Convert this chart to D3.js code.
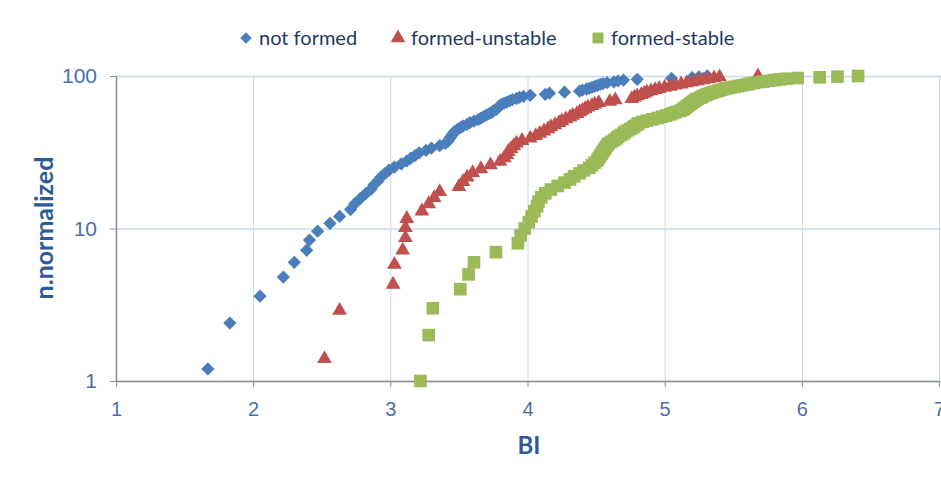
<!DOCTYPE html>
<html>
  <head>
    <meta charset="utf-8">
    <title>BI vs n.normalized</title>
    <script type="text/javascript" src="https://d3js.org/d3.v7.min.js"></script>
    <style>
      body { margin: 0; background: #fff; }
    </style>
  </head>
  <body>
    <div id="chart"></div>
    <script type="text/javascript">
      // series names
      var seriesNames = ["not formed", "formed-unstable", "formed-stable"];

      // not formed (diamonds)
      var notFormedX = [1.67, 1.83, 2.05, 2.22, 2.30, 2.39, 2.41, 2.47, 2.56, 2.63,
        2.71, 2.74, 2.78, 2.82, 2.86, 2.88, 2.91, 2.93, 2.96, 2.99,
        3.03, 3.08, 3.12, 3.15, 3.18, 3.21, 3.26, 3.30, 3.36, 3.40,
        3.42, 3.43, 3.44, 3.45, 3.46, 3.47, 3.49, 3.51, 3.53, 3.56,
        3.58, 3.61, 3.64, 3.66, 3.68, 3.70, 3.72, 3.74, 3.75, 3.77,
        3.78, 3.79, 3.80, 3.81, 3.83, 3.85, 3.87, 3.89, 3.92, 3.94,
        3.97, 4.02, 4.13, 4.16, 4.27, 4.38, 4.40, 4.43, 4.45, 4.47,
        4.49, 4.51, 4.53, 4.55, 4.58, 4.63, 4.66, 4.70, 4.80, 5.05,
        5.20, 5.25, 5.31];
      var notFormedY = [1.2, 2.4, 3.6, 4.8, 6.0, 7.2, 8.4, 9.6, 10.8, 12.0,
        13.3, 14.5, 15.7, 16.9, 18.1, 19.3, 20.5, 21.7, 22.9, 24.1,
        25.3, 26.5, 27.7, 28.9, 30.1, 31.3, 32.5, 33.7, 34.9, 36.1,
        37.3, 38.6, 39.8, 41.0, 42.2, 43.4, 44.6, 45.8, 47.0, 48.2,
        49.4, 50.6, 51.8, 53.0, 54.2, 55.4, 56.6, 57.8, 59.0, 60.2,
        61.4, 62.7, 63.9, 65.1, 66.3, 67.5, 68.7, 69.9, 71.1, 72.3,
        73.5, 74.7, 75.9, 77.1, 78.3, 79.5, 80.7, 81.9, 83.1, 84.3,
        85.5, 86.7, 88.0, 89.2, 90.4, 91.6, 92.8, 94.0, 95.2, 96.4,
        97.6, 98.8, 100];

      // formed-unstable (triangles)
      var unstableX = [2.52, 2.63, 3.02, 3.03, 3.09, 3.11, 3.11, 3.12, 3.23, 3.28,
        3.32, 3.36, 3.50, 3.53, 3.56, 3.60, 3.66, 3.73, 3.80, 3.83,
        3.85, 3.86, 3.88, 3.90, 3.92, 3.96, 4.02, 4.06, 4.09, 4.12,
        4.15, 4.17, 4.20, 4.23, 4.25, 4.28, 4.31, 4.33, 4.36, 4.38,
        4.40, 4.42, 4.44, 4.47, 4.49, 4.52, 4.60, 4.64, 4.76, 4.78,
        4.80, 4.83, 4.85, 4.87, 4.90, 4.93, 4.96, 5.00, 5.04, 5.08,
        5.12, 5.16, 5.20, 5.24, 5.28, 5.32, 5.36, 5.40, 5.68];
      var unstableY = [1.4, 2.9, 4.3, 5.8, 7.2, 8.7, 10.1, 11.6, 13.0, 14.5,
        15.9, 17.4, 18.8, 20.3, 21.7, 23.2, 24.6, 26.1, 27.5, 29.0,
        30.4, 31.9, 33.3, 34.8, 36.2, 37.7, 39.1, 40.6, 42.0, 43.5,
        44.9, 46.4, 47.8, 49.3, 50.7, 52.2, 53.6, 55.1, 56.5, 58.0,
        59.4, 60.9, 62.3, 63.8, 65.2, 66.7, 68.1, 69.6, 71.0, 72.5,
        73.9, 75.4, 76.8, 78.3, 79.7, 81.2, 82.6, 84.1, 85.5, 87.0,
        88.4, 89.9, 91.3, 92.8, 94.2, 95.7, 97.1, 98.6, 100];

      // formed-stable (squares)
      var stableX = [3.22, 3.28, 3.31, 3.51, 3.57, 3.61, 3.77, 3.93, 3.95, 3.98,
        4.01, 4.03, 4.05, 4.07, 4.08, 4.10, 4.13, 4.17, 4.22, 4.27,
        4.31, 4.34, 4.38, 4.41, 4.45, 4.47, 4.49, 4.51, 4.52, 4.53,
        4.54, 4.55, 4.56, 4.57, 4.58, 4.59, 4.61, 4.63, 4.65, 4.66,
        4.68, 4.70, 4.71, 4.73, 4.75, 4.77, 4.78, 4.80, 4.81, 4.84,
        4.87, 4.91, 4.95, 4.98, 5.01, 5.04, 5.06, 5.08, 5.11, 5.13,
        5.14, 5.15, 5.16, 5.17, 5.18, 5.19, 5.20, 5.21, 5.22, 5.23,
        5.24, 5.26, 5.27, 5.28, 5.30, 5.31, 5.33, 5.35, 5.37, 5.39,
        5.41, 5.43, 5.45, 5.48, 5.51, 5.54, 5.57, 5.60, 5.62, 5.65,
        5.68, 5.72, 5.76, 5.80, 5.84, 5.89, 5.97, 6.13, 6.26, 6.41];
      var stableY = [1, 2, 3, 4, 5, 6, 7, 8, 9, 10,
        11, 12, 13, 14, 15, 16, 17, 18, 19, 20,
        21, 22, 23, 24, 25, 26, 27, 28, 29, 30,
        31, 32, 33, 34, 35, 36, 37, 38, 39, 40,
        41, 42, 43, 44, 45, 46, 47, 48, 49, 50,
        51, 52, 53, 54, 55, 56, 57, 58, 59, 60,
        61, 62, 63, 64, 65, 66, 67, 68, 69, 70,
        71, 72, 73, 74, 75, 76, 77, 78, 79, 80,
        81, 82, 83, 84, 85, 86, 87, 88, 89, 90,
        91, 92, 93, 94, 95, 96, 97, 98, 99, 100];

      var xTicks = [1, 2, 3, 4, 5, 6, 7];
      var yTicks = [1, 10, 100];

      var width = 941, height = 477;
      var margin = {top: 76, right: 2, bottom: 96, left: 116};

      var svg = d3.select("#chart").append("svg")
        .attr("width", width)
        .attr("height", height)
        .style("font-family", "Lato, 'Open Sans', sans-serif");

      var x = d3.scaleLinear().domain([1, 7]).range([margin.left, width - margin.right]);
      var y = d3.scaleLog().domain([1, 100]).range([height - margin.bottom, margin.top]);

      var gridColor = "#c6d9f0";
      var axisColor = "#8c8c8c";
      var labelColor = "#4a6fa5";
      var titleColor = "#2e5b98";

      // vertical gridlines
      svg.append("g")
        .attr("transform", "translate(0," + (height - margin.bottom) + ")")
        .call(d3.axisBottom(x).tickValues(xTicks).tickSize(-(height - margin.bottom - margin.top)).tickFormat(""))
        .call(function(g) {
          g.select(".domain").remove();
          g.selectAll("line").attr("stroke", gridColor).attr("stroke-width", 1);
        });

      // horizontal gridlines
      svg.append("g")
        .attr("transform", "translate(" + margin.left + ",0)")
        .call(d3.axisLeft(y).tickValues(yTicks).tickSize(-(width - margin.left)).tickFormat(""))
        .call(function(g) {
          g.select(".domain").remove();
          g.selectAll("line").attr("stroke", gridColor).attr("stroke-width", 1.5);
        });

      // x axis
      svg.append("g")
        .attr("transform", "translate(0," + (height - margin.bottom) + ")")
        .call(d3.axisBottom(x).tickValues(xTicks).tickSize(6).tickPadding(15).tickSizeOuter(0).tickFormat(d3.format("d")))
        .call(function(g) {
          g.select(".domain").attr("stroke", axisColor).attr("stroke-width", 1.5);
          g.selectAll("line").attr("stroke", axisColor);
          g.selectAll("text").attr("fill", labelColor).style("font-size", "20px");
        });

      // y axis
      svg.append("g")
        .attr("transform", "translate(" + margin.left + ",0)")
        .call(d3.axisLeft(y).tickValues(yTicks).tickSize(6).tickPadding(13).tickSizeOuter(0).tickFormat(d3.format("d")))
        .call(function(g) {
          g.select(".domain").attr("stroke", axisColor).attr("stroke-width", 1.5);
          g.selectAll("line").attr("stroke", axisColor);
          g.selectAll("text").attr("fill", labelColor).style("font-size", "21px");
        });

      // axis titles
      svg.append("text")
        .attr("x", 529)
        .attr("y", 454)
        .attr("text-anchor", "middle")
        .attr("fill", titleColor)
        .style("font-size", "24px")
        .style("font-weight", "bold")
        .text("BI");

      svg.append("text")
        .attr("transform", "translate(53,228) rotate(-90)")
        .attr("text-anchor", "middle")
        .attr("fill", titleColor)
        .style("font-size", "25px")
        .style("font-weight", "bold")
        .text("n.normalized");

      // markers
      var diamond = d3.symbol().type(d3.symbolSquare).size(88);
      var triangle = d3.symbol().type(d3.symbolTriangle).size(95);
      var square = d3.symbol().type(d3.symbolSquare).size(160);

      var series = [
        {xs: notFormedX, ys: notFormedY, color: "#4a7ebb", path: diamond(), rot: 45},
        {xs: unstableX, ys: unstableY, color: "#c0504d", path: triangle(), rot: 0},
        {xs: stableX, ys: stableY, color: "#9bbb59", path: square(), rot: 0}
      ];

      series.forEach(function(s) {
        svg.append("g").selectAll("path")
          .data(d3.range(s.xs.length))
          .enter()
          .append("path")
            .attr("d", s.path)
            .attr("fill", s.color)
            .attr("transform", function(i) {
              return "translate(" + x(s.xs[i]) + "," + y(s.ys[i]) + ") rotate(" + s.rot + ")";
            });
      });

      // legend
      var legendX = [246, 398, 598];
      var legendSize = [66, 95, 120];
      var legendType = [d3.symbolSquare, d3.symbolTriangle, d3.symbolSquare];
      var legend = svg.append("g");
      series.forEach(function(s, i) {
        legend.append("path")
          .attr("d", d3.symbol().type(legendType[i]).size(legendSize[i])())
          .attr("fill", s.color)
          .attr("transform", "translate(" + legendX[i] + ",38) rotate(" + s.rot + ")");
        legend.append("text")
          .attr("x", legendX[i] + 13)
          .attr("y", 45)
          .attr("fill", "#1f3864")
          .style("font-size", "20px")
          .text(seriesNames[i]);
      });
    </script>
  </body>
</html>
